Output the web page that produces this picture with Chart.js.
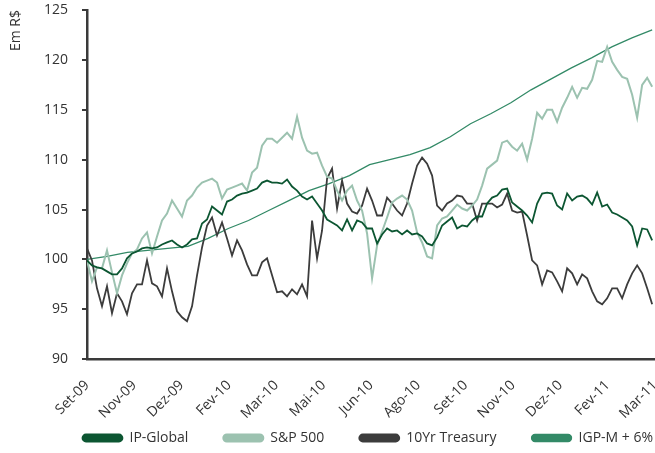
<!DOCTYPE html>
<html>
<head>
<meta charset="utf-8">
<script src="https://cdn.jsdelivr.net/npm/chart.js@4.4.1/dist/chart.umd.min.js"></script>
<style>
  html, body { margin: 0; padding: 0; background: #fff; }
  #wrap { width: 655px; height: 453px; }
</style>
</head>
<body>
<div id="wrap"><canvas id="chart"></canvas></div>
<script>
// rotulos do eixo x (um a cada ~mes e meio)
const monthLabels = ["Set-09", "Nov-09", "Dez-09", "Fev-10", "Mar-10", "Mai-10", "Jun-10",
                     "Ago-10", "Set-10", "Nov-10", "Dez-10", "Fev-11", "Mar-11"];
const lastX = 11.94; // ultima observacao, em unidades de rotulo

// series (amostras igualmente espacadas)
const ipGlobal = [99.9, 99.4, 99.2, 99.1, 98.8, 98.5, 98.5, 99.1, 100.1, 100.6,
  100.8, 101.1, 101.2, 101.1, 101.2, 101.5, 101.7, 101.9, 101.5, 101.2,
  101.5, 102.0, 102.1, 103.6, 104.0, 105.3, 104.9, 104.5, 105.8, 106.0,
  106.4, 106.6, 106.7, 106.9, 107.1, 107.7, 107.9, 107.7, 107.7, 107.6,
  108.0, 107.3, 106.9, 106.3, 106.0, 106.3, 105.6, 104.9, 104.0, 103.7,
  103.4, 102.9, 104.0, 102.9, 103.9, 103.7, 103.1, 103.1, 101.6, 102.5,
  103.1, 102.8, 102.9, 102.5, 102.9, 102.5, 102.6, 102.3, 101.6, 101.4,
  102.2, 103.4, 103.8, 104.2, 103.1, 103.4, 103.3, 103.9, 104.3, 104.3,
  105.6, 106.2, 106.4, 107.0, 107.1, 105.7, 105.3, 104.9, 104.4, 103.7,
  105.6, 106.6, 106.7, 106.6, 105.4, 105.0, 106.6, 105.9, 106.3, 106.4,
  106.1, 105.5, 106.7, 105.3, 105.5, 104.7, 104.5, 104.2, 103.9, 103.3,
  101.4, 103.1, 103.0, 101.9];

const sp500 = [99.9, 97.8, 99.2, 99.1, 100.9, 98.7, 96.6, 98.4, 99.6, 100.6,
  101.0, 102.1, 102.7, 100.6, 102.3, 103.9, 104.6, 105.9, 105.1, 104.3,
  105.9, 106.4, 107.2, 107.7, 107.9, 108.1, 107.7, 106.1, 107.0, 107.2,
  107.4, 107.6, 106.9, 108.7, 109.2, 111.4, 112.1, 112.1, 111.7, 112.2,
  112.7, 112.1, 114.3, 112.2, 110.9, 110.6, 110.7, 109.4, 108.3, 108.1,
  106.9, 105.9, 106.9, 107.4, 105.9, 104.9, 102.6, 98.1, 101.4, 102.8,
  104.2, 105.7, 106.1, 106.4, 106.0, 104.9, 102.7, 101.7, 100.3, 100.1,
  103.4, 104.1, 104.3, 104.9, 105.5, 105.1, 104.9, 105.4, 106.0, 107.4,
  109.1, 109.5, 109.9, 111.7, 111.9, 111.3, 110.9, 111.6, 110.0, 112.1,
  114.7, 114.1, 115.0, 115.0, 113.8, 115.2, 116.2, 117.3, 116.2, 117.2,
  117.1, 118.0, 119.9, 119.8, 121.3, 119.8, 119.0, 118.3, 118.1, 116.5,
  114.2, 117.5, 118.2, 117.3];

const treasury = [101.1, 99.9, 97.1, 95.3, 97.3, 94.6, 96.6, 95.8, 94.5, 96.6,
  97.5, 97.5, 99.9, 97.6, 97.3, 96.3, 99.1, 96.8, 94.8, 94.2,
  93.8, 95.3, 98.4, 101.2, 103.4, 104.2, 102.4, 103.7, 102.1, 100.4,
  101.9, 100.9, 99.5, 98.4, 98.4, 99.7, 100.1, 98.4, 96.7, 96.8,
  96.3, 97.0, 96.5, 97.5, 96.3, 103.9, 100.1, 102.9, 108.1, 109.1,
  105.1, 107.9, 105.6, 104.8, 104.6, 105.4, 107.1, 105.9, 104.4, 104.4,
  106.2, 105.6, 104.9, 104.4, 105.6, 107.6, 109.4, 110.2, 109.6, 108.4,
  105.4, 104.9, 105.6, 105.9, 106.4, 106.3, 105.6, 105.6, 103.9, 105.6,
  105.6, 105.6, 105.2, 105.5, 106.6, 104.9, 104.7, 104.8, 102.4, 99.9,
  99.4, 97.5, 98.9, 98.7, 97.8, 96.8, 99.1, 98.6, 97.5, 98.5,
  98.1, 96.8, 95.8, 95.5, 96.1, 97.1, 97.1, 96.1, 97.5, 98.6,
  99.4, 98.6, 97.1, 95.5];

const igpm = [100.0, 100.3, 100.7, 100.9, 101.1, 101.3, 102.1, 103.1, 103.9, 104.9,
  105.9, 106.9, 107.6, 108.4, 109.5, 110.0, 110.5, 111.2, 112.3, 113.6,
  114.6, 115.7, 117.0, 118.1, 119.2, 120.2, 121.3, 122.2, 123.0];

const toPoints = values => values.map((v, i) => ({ x: i * lastX / (values.length - 1), y: v }));

const txt = '#333333';
const axisColor = '#3a3a3a';
const fnt = { family: "'Open Sans', sans-serif", size: 14 };
const xShrink = 44; // eixo x mais baixo, rotulos invadem a faixa da legenda

// legenda alinhada sob a area do grafico, como no original
const legendShift = {
    id: 'legendShift',
    afterLayout(chart) {
        chart.legend.left += 33;
        chart.legend.right += 33;
        chart.scales.x.bottom += xShrink; // nao cortar os rotulos girados
    }
};

const chart = new Chart(document.getElementById("chart"), {
    type: 'line',
    data: {
        datasets: [
            { label: "IP-Global", data: toPoints(ipGlobal), borderColor: "#0c5632", backgroundColor: "#0c5632", borderWidth: 1.8 },
            { label: "S&P 500", data: toPoints(sp500), borderColor: "#9cc2b0", backgroundColor: "#9cc2b0", borderWidth: 2 },
            { label: "10Yr Treasury", data: toPoints(treasury), borderColor: "#3c3c3c", backgroundColor: "#3c3c3c", borderWidth: 1.8 },
            { label: "IGP-M + 6%", data: toPoints(igpm), borderColor: "#338a67", backgroundColor: "#338a67", borderWidth: 1.3 }
        ]
    },
    plugins: [legendShift],
    options: {
        responsive: true,
        maintainAspectRatio: false,
        animation: false,
        elements: { point: { radius: 0 }, line: { tension: 0 } },
        layout: { padding: { top: 10, right: 0, bottom: -2, left: 0 } },
        plugins: {
            tooltip: { enabled: false },
            legend: {
                position: 'bottom',
                align: 'end',
                labels: {
                    boxWidth: 40, boxHeight: 7,
                    useBorderRadius: true, borderRadius: 3.5,
                    padding: 35, color: txt, font: fnt
                }
            }
        },
        scales: {
            x: {
                type: 'linear', min: 0, max: 12,
                grid: { display: false, drawTicks: false },
                border: { color: axisColor, width: 2.5 },
                ticks: {
                    stepSize: 1, autoSkip: false, maxRotation: 45, minRotation: 45,
                    padding: 18, color: txt, font: fnt,
                    callback: v => monthLabels[v]
                },
                afterFit: s => { s.paddingRight = 0; s.height -= xShrink; }
            },
            y: {
                min: 90, max: 125,
                grid: { drawOnChartArea: false, tickLength: 5, color: axisColor, lineWidth: 2 },
                border: { color: axisColor, width: 2.5 },
                ticks: { stepSize: 5, padding: 14, color: txt, font: fnt },
                title: { display: true, text: 'Em R$', align: 'end', color: txt, font: fnt, padding: { top: 8, bottom: 0 } },
                afterFit: s => { s.width = 87; s.paddingTop = 0; }
            }
        }
    }
});
</script>
</body>
</html>
